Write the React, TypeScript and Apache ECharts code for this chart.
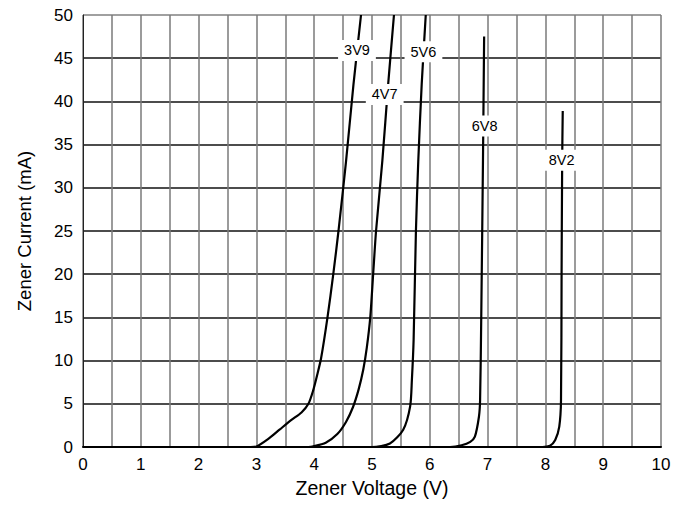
import React, { useEffect, useRef } from "react";
import * as echarts from "echarts";

// Zener diode characteristics: [voltage V, current mA]
const seriesNames = ["3V9", "4V7", "5V6", "6V8", "8V2"];

const curve3V9: number[][] = [
  [0, 0], [2.9, 0], [3.0, 0.05], [3.2, 0.9], [3.4, 2.0], [3.6, 3.1], [3.78, 4.0],
  [3.9, 5.0], [3.98, 6.5], [4.05, 8.3], [4.12, 10.3], [4.23, 15], [4.33, 20], [4.42, 25],
  [4.55, 33], [4.68, 42], [4.81, 50],
];
const curve4V7: number[][] = [
  [0, 0], [3.9, 0], [3.97, 0.05], [4.2, 0.5], [4.4, 1.5], [4.55, 2.9], [4.67, 4.6],
  [4.77, 6.7], [4.85, 9.0], [4.91, 11.5], [4.97, 15], [5.02, 20], [5.07, 25],
  [5.18, 33.2], [5.28, 42], [5.38, 50],
];
const curve5V6: number[][] = [
  [0, 0], [5.0, 0], [5.31, 0.4], [5.54, 2.0], [5.66, 4.7], [5.69, 7.75], [5.72, 12.4],
  [5.76, 25], [5.8, 33], [5.86, 42], [5.93, 50],
];
const curve6V8: number[][] = [
  [0, 0], [6.35, 0], [6.55, 0.2], [6.7, 0.6], [6.78, 1.2], [6.85, 3.5], [6.87, 5.4],
  [6.89, 15], [6.92, 33.2], [6.94, 47.5],
];
const curve8V2: number[][] = [
  [0, 0], [7.95, 0], [8.08, 0.15], [8.17, 0.8], [8.24, 2.35], [8.27, 5.4],
  [8.28, 20], [8.29, 33], [8.3, 38.9],
];
const curves = [curve3V9, curve4V7, curve5V6, curve6V8, curve8V2];

// label anchors on each curve
const labelV = [4.74, 5.22, 5.89, 6.95, 8.28];
const labelI = [45.9, 40.8, 45.75, 37.15, 33.2];

const xTicks = [0, 1, 2, 3, 4, 5, 6, 7, 8, 9, 10];
const yTicks = [0, 5, 10, 15, 20, 25, 30, 35, 40, 45, 50];

const FONT = "'Liberation Sans', Arial, Helvetica, sans-serif";

export default function App() {
  const ref = useRef<HTMLDivElement>(null);
  useEffect(() => {
    if (!ref.current) return;
    const chart = echarts.init(ref.current, undefined, { renderer: "svg" });
    const ySplitColors = yTicks.map((_, i) => (i === yTicks.length - 1 ? "#808080" : "#111111"));
    chart.setOption({
      animation: false,
      backgroundColor: "#ffffff",
      textStyle: { fontFamily: FONT },
      grid: { left: 83, right: 33, top: 15, bottom: 61, containLabel: false },
      xAxis: {
        type: "value",
        min: 0,
        max: 10,
        interval: 0.5,
        name: "Zener Voltage (V)",
        nameLocation: "middle",
        nameGap: 31,
        nameTextStyle: { fontSize: 19.5, color: "#000", fontFamily: FONT },
        axisLine: { show: true, onZero: false, lineStyle: { color: "#000", width: 2 } },
        axisTick: { show: false },
        axisLabel: {
          fontSize: 17,
          color: "#000",
          margin: 9,
          fontFamily: FONT,
          formatter: (v: number) => (xTicks.indexOf(v) >= 0 ? String(v) : ""),
        },
        splitLine: { show: true, lineStyle: { color: "#7a7a7a", width: 1.5 } },
      },
      yAxis: {
        type: "value",
        min: 0,
        max: 50,
        interval: 5,
        name: "Zener Current (mA)",
        nameLocation: "middle",
        nameGap: 49,
        nameTextStyle: { fontSize: 18.5, color: "#000", fontFamily: FONT },
        axisLine: { show: true, onZero: false, lineStyle: { color: "#222", width: 1 } },
        axisTick: { show: false },
        axisLabel: {
          fontSize: 17,
          color: "#000",
          margin: 10,
          fontFamily: FONT,
          formatter: (v: number) => (yTicks.indexOf(v) >= 0 ? String(v) : ""),
        },
        splitLine: { show: true, lineStyle: { color: ySplitColors, width: 1.5 } },
      },
      series: [
        ...curves.map((c, i) => ({
          name: seriesNames[i],
          type: "line",
          data: c,
          smooth: 0.25,
          showSymbol: false,
          symbol: "none",
          lineStyle: { color: "#000", width: 2.2 },
          emphasis: { disabled: true },
          z: 3,
        })),
        {
          name: "labels",
          type: "scatter",
          symbolSize: 0,
          z: 10,
          itemStyle: { opacity: 1 },
          emphasis: { disabled: true },
          data: seriesNames.map((n, i) => ({ name: n, value: [labelV[i], labelI[i]] })),
          label: {
            show: true,
            position: "inside",
            formatter: "{b}",
            fontSize: 14.5,
            color: "#000",
            opacity: 1,
            fontFamily: FONT,
            backgroundColor: "#ffffff",
            padding: [3, 6],
          },
        },
      ],
    });
    return () => chart.dispose();
  }, []);
  return (
    <div
      ref={ref}
      style={{ position: "absolute", left: 0, top: 0, width: 694, height: 508 }}
    />
  );
}
